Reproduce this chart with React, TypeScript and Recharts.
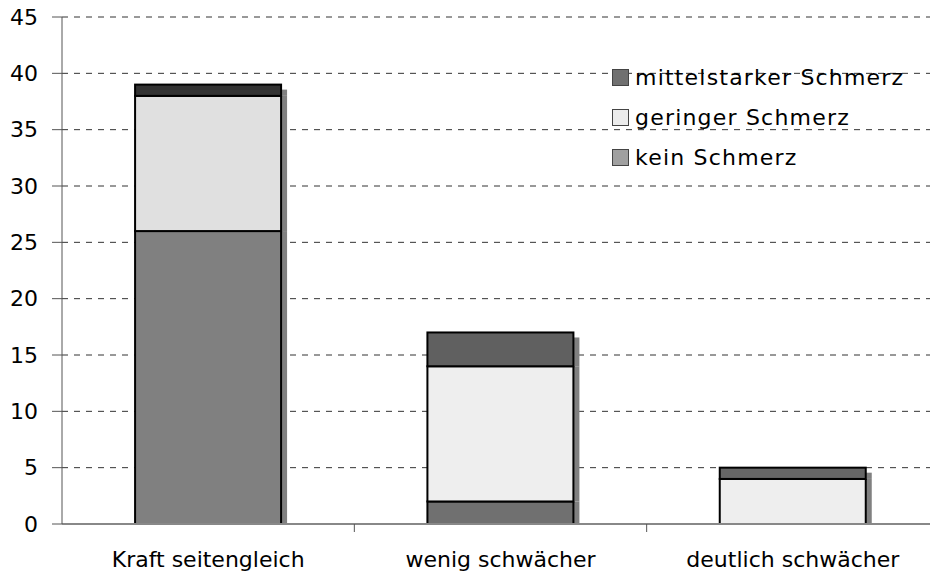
import React from 'react';
import { BarChart, Bar, XAxis, YAxis, CartesianGrid, Cell } from 'recharts';

const categories = ['Kraft seitengleich', 'wenig schwächer', 'deutlich schwächer'];
const keinSchmerz = [26, 2, 0];
const geringerSchmerz = [12, 12, 4];
const mittelstarkerSchmerz = [1, 3, 1];
const yTicks = [0, 5, 10, 15, 20, 25, 30, 35, 40, 45];

// per-bar fills, as in the original (slight differences between columns)
const keinColors = ['#808080', '#707070', '#707070'];
const geringColors = ['#e0e0e0', '#eeeeee', '#eeeeee'];
const mittelColors = ['#333333', '#606060', '#666666'];

const legendItems = [
  { label: 'mittelstarker Schmerz', color: '#707070' },
  { label: 'geringer Schmerz', color: '#ececec' },
  { label: 'kein Schmerz', color: '#a0a0a0' },
];

const W = 930;
const H = 575;
const CHART_W = 939; // plot area runs a little past the right edge in the original
const LEFT = 62;
const FONT = '"DejaVu Sans", Verdana, sans-serif';

const data = categories.map((name, i) => ({
  name,
  kein: keinSchmerz[i],
  gering: geringerSchmerz[i],
  mittel: mittelstarkerSchmerz[i],
}));

const SHADOW = 6;

function segment(isTop: boolean) {
  return (props: any) => {
    const { x, y, width, height, fill } = props;
    if (!height || height <= 0) return <g />;
    const off = isTop ? 5 : 0;
    return (
      <g>
        <rect x={x + width} y={y + off} width={SHADOW} height={Math.max(0, height - off)} fill="#808080" />
        <rect x={x} y={y} width={width} height={height} fill={fill} stroke="#000" strokeWidth={2} />
      </g>
    );
  };
}

function XTick(props: any) {
  const { x, y, payload } = props;
  const half = (CHART_W - LEFT) / categories.length / 2;
  return (
    <g>
      {payload.index > 0 && <line x1={x - half} x2={x - half} y1={y - 8} y2={y} stroke="#555" strokeWidth={1} />}
      <text x={x} y={y + 35} textAnchor="middle" fontSize={22} fontFamily={FONT} fill="#000">
        {payload.value}
      </text>
    </g>
  );
}

function LegendBox() {
  return (
    <div style={{ position: 'absolute', left: 612, top: 57, fontFamily: FONT, fontSize: 22, letterSpacing: 1.2 }}>
      {legendItems.map((it) => (
        <div key={it.label} style={{ display: 'flex', alignItems: 'center', height: 40 }}>
          <span style={{ width: 15, height: 15, background: it.color, border: '1px solid #444', marginRight: 6 }} />
          <span>{it.label}</span>
        </div>
      ))}
    </div>
  );
}

export default function App() {
  return (
    <div style={{ position: 'absolute', left: 0, top: 0, width: W, height: H, background: '#fff', overflow: 'hidden' }}>
      <BarChart width={CHART_W} height={H} data={data} margin={{ top: 17, right: 0, bottom: 0, left: 0 }} barCategoryGap="25%">
        <CartesianGrid vertical={false} stroke="#333" strokeDasharray="6 6" />
        <XAxis
          dataKey="name"
          height={51}
          axisLine={{ stroke: '#888', strokeWidth: 2 }}
          tickLine={false}
          tick={<XTick />}
          interval={0}
        />
        <YAxis
          domain={[0, 45]}
          ticks={yTicks}
          width={LEFT}
          axisLine={{ stroke: '#555' }}
          tickLine={{ stroke: '#555' }}
          tickSize={10}
          tickMargin={14}
          tick={{ fontSize: 22, fontFamily: FONT, fill: '#000' }}
        />
        <Bar dataKey="kein" stackId="a" isAnimationActive={false} shape={segment(false)}>
          {data.map((_, i) => <Cell key={i} fill={keinColors[i]} />)}
        </Bar>
        <Bar dataKey="gering" stackId="a" isAnimationActive={false} shape={segment(false)}>
          {data.map((_, i) => <Cell key={i} fill={geringColors[i]} />)}
        </Bar>
        <Bar dataKey="mittel" stackId="a" isAnimationActive={false} shape={segment(true)}>
          {data.map((_, i) => <Cell key={i} fill={mittelColors[i]} />)}
        </Bar>
      </BarChart>
      <LegendBox />
    </div>
  );
}
